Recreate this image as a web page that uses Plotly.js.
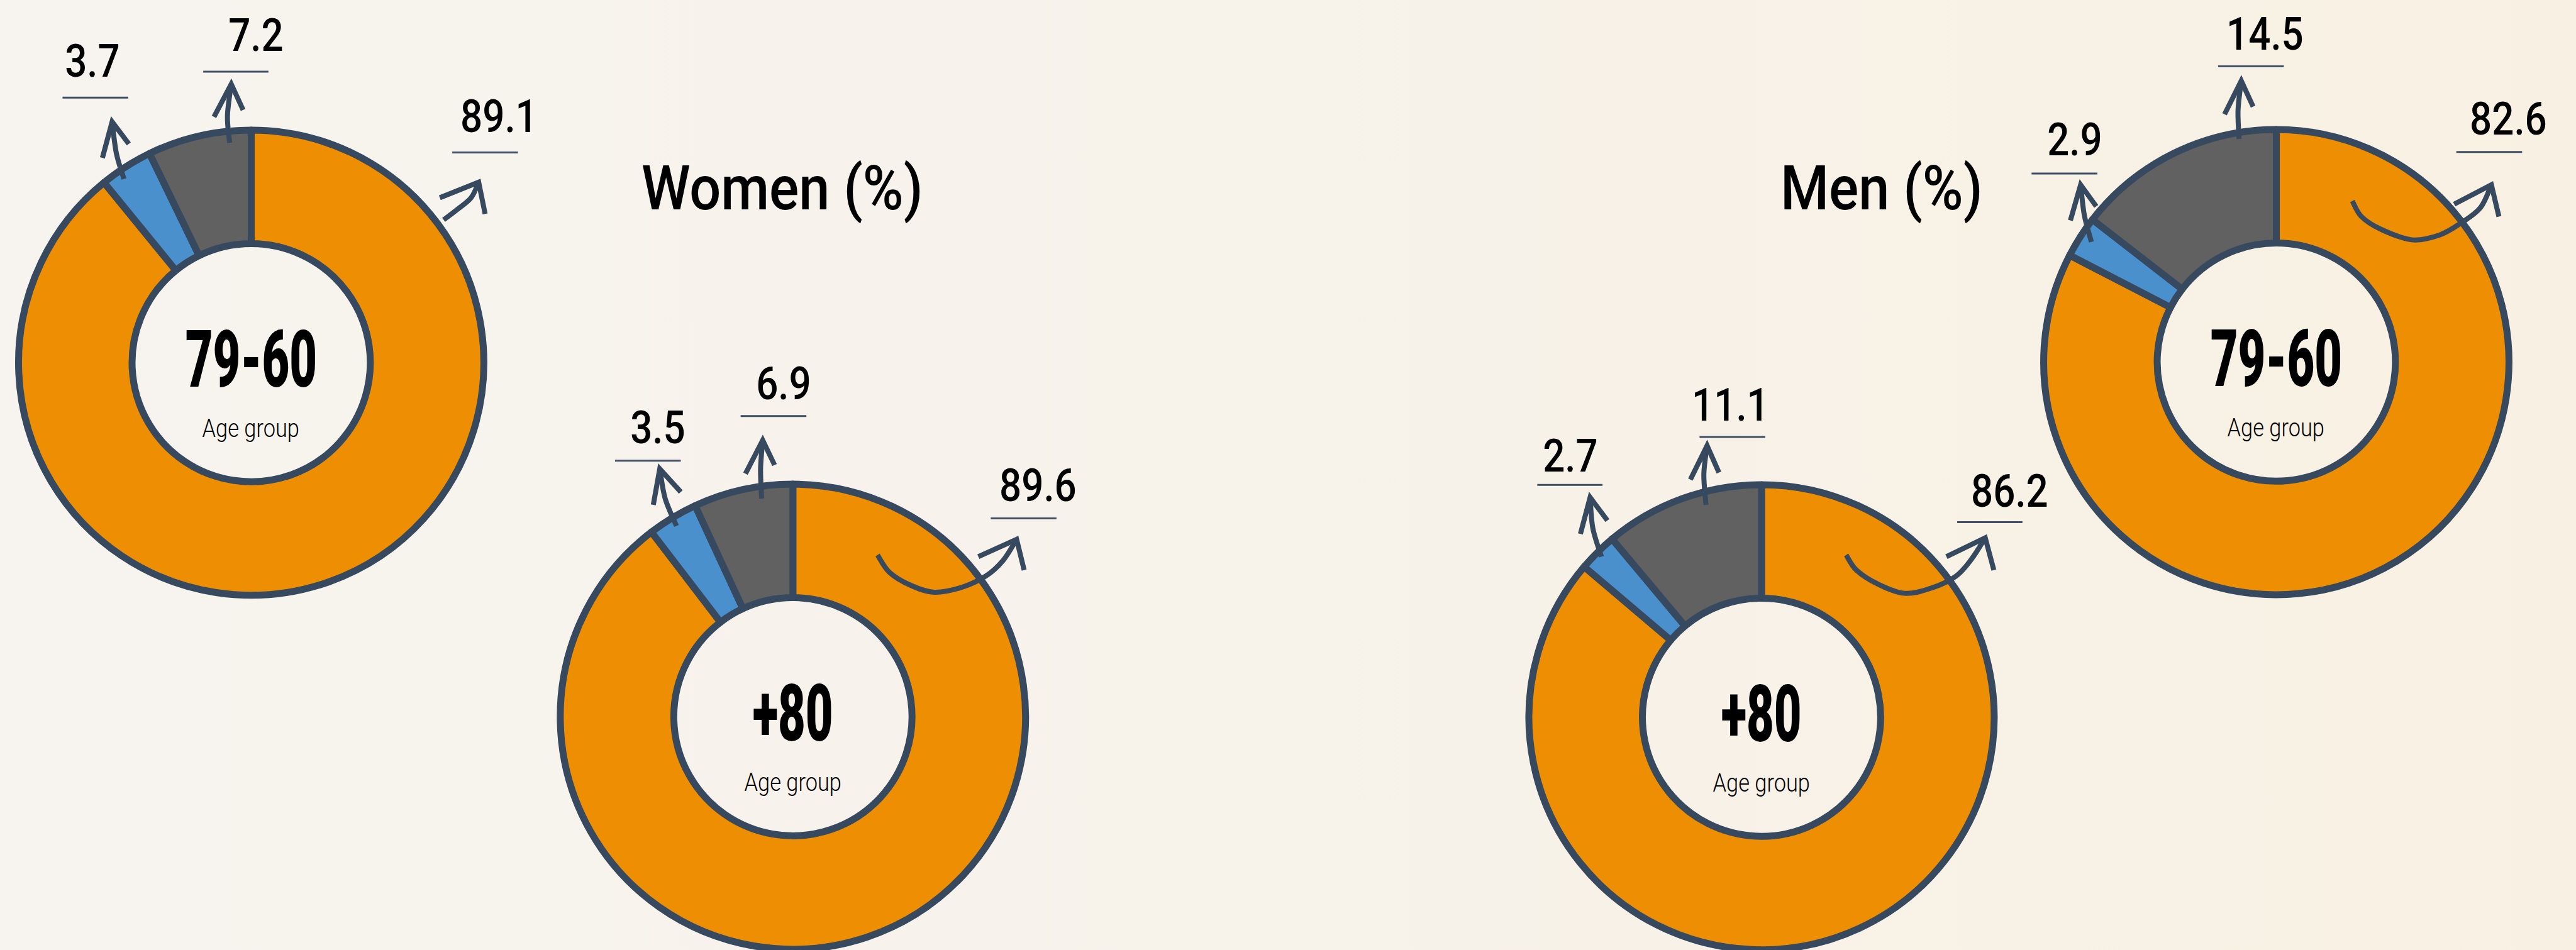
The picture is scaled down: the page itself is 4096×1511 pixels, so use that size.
<!DOCTYPE html>
<html>
<head>
<meta charset="utf-8">
<script src="https://cdn.plot.ly/plotly-3.0.1.min.js"></script>
<style>
  html, body { margin: 0; padding: 0; }
  body { width: 4096px; height: 1511px; overflow: hidden;
         background: linear-gradient(90deg, #F7F4EF 0%, #F7F2EA 50%, #F8F1E3 100%); }
  #chart { width: 4096px; height: 1511px; }
</style>
</head>
<body>
<div id="chart"></div>
<script>
// ---------------- DATA ----------------
const categories = ['Segment A', 'Segment B', 'Segment C'];
const women60to79 = [89.1, 3.7, 7.2];
const women80plus = [89.6, 3.5, 6.9];
const men60to79   = [82.6, 2.9, 14.5];
const men80plus   = [86.2, 2.7, 11.1];
const centerLabels = ['79-60', '+80', '79-60', '+80'];
const subLabel = 'Age group';
const panelTitles = ['Women (%)', 'Men (%)'];

// ---------------- LAYOUT HELPERS ----------------
const W = 4096, H = 1511;          // window
const RW = 4779, RH = 1763;        // reference size
const S = W / RW;
const px = X => X / RW;
const py = Y => 1 - Y / RH;

const sliceColors = ['#EE8E03', '#4A90CD', '#616161'];
const ink = '#37495E';
const lineW = 11;
const outerR = 438;   // reference px, outer visible edge
const FONT = "Roboto, 'Open Sans', 'DejaVu Sans', sans-serif";

// ring placement (reference pixel coordinates) and decoration
const rings = [
  { values: women60to79, cx: 466,  cy: 673,
    lab: [[926,222],[171,120],[475,72]],
    und: [[839,961,283],[116,238,181],[377,498,133]],
    arrows: [
      { pts: [[823,408],[848,389],[874,367],[888,338]], wings: [[816,367],[900,397]] },
      { pts: [[230,332],[216,285],[208,226]], wings: [[190,293],[239,267]] },
      { pts: [[426,265],[422,215],[429,156]], wings: [[397,217],[451,204]] } ] },
  { values: women80plus, cx: 1471, cy: 1330,
    lab: [[1926,907],[1221,800],[1454,718]],
    und: [[1838,1960,962],[1141,1263,855],[1374,1496,772]],
    arrows: [
      { pts: [[1628,1030],[1650,1062],[1689,1086],[1733,1099],[1784,1090],[1829,1069],[1861,1040],[1886,1001]], wings: [[1815,1033],[1900,1058]] },
      { pts: [[1255,976],[1234,925],[1224,870]], wings: [[1212,937],[1263,913]] },
      { pts: [[1413,925],[1411,870],[1415,817]], wings: [[1383,879],[1437,863]] } ] },
  { values: men60to79, cx: 4223, cy: 672,
    lab: [[4653,227],[3849,266],[4202,70]],
    und: [[4557,4679,282],[3769,3891,322],[4115,4237,123]],
    arrows: [
      { pts: [[4364,373],[4381,402],[4416,425],[4474,445],[4526,436],[4567,413],[4602,385],[4622,343]], wings: [[4553,379],[4636,402]] },
      { pts: [[3880,449],[3867,400],[3860,343]], wings: [[3841,409],[3889,383]] },
      { pts: [[4154,258],[4152,205],[4158,150]], wings: [[4127,212],[4180,198]] } ] },
  { values: men80plus, cx: 3268, cy: 1331,
    lab: [[3728,918],[2913,852],[3210,758]],
    und: [[3631,3752,969],[2852,2973,900],[3153,3275,811]],
    arrows: [
      { pts: [[3425,1030],[3444,1058],[3482,1083],[3533,1101],[3584,1091],[3629,1069],[3658,1037],[3683,998]], wings: [[3611,1033],[3699,1058]] },
      { pts: [[2971,1033],[2955,980],[2950,923]], wings: [[2932,991],[2982,966]] },
      { pts: [[3165,937],[3161,880],[3167,827]], wings: [[3136,890],[3189,877]] } ] }
];
const titlePos = [[1451, 346], [3490, 346]];

// smooth path through points (Catmull-Rom -> cubic Bezier), paper coords
function smoothPath(points) {
  const p = points.map(([x, y]) => [px(x), py(y)]);
  let d = `M${p[0][0]},${p[0][1]}`;
  for (let i = 0; i < p.length - 1; i++) {
    const p0 = p[Math.max(0, i - 1)], p1 = p[i], p2 = p[i + 1], p3 = p[Math.min(p.length - 1, i + 2)];
    const c1 = [p1[0] + (p2[0] - p0[0]) / 6, p1[1] + (p2[1] - p0[1]) / 6];
    const c2 = [p2[0] - (p3[0] - p1[0]) / 6, p2[1] - (p3[1] - p1[1]) / 6];
    d += ` C${c1[0]},${c1[1]} ${c2[0]},${c2[1]} ${p2[0]},${p2[1]}`;
  }
  return d;
}

const data = [];
const annotations = [];
const squeeze = [];   // horizontal condensing per annotation index
const shapes = [];

function addText(opts, sq) {
  annotations.push(Object.assign({
    xref: 'paper', yref: 'paper', xanchor: 'center', yanchor: 'middle', showarrow: false
  }, opts));
  squeeze.push(sq);
}

rings.forEach((ring, k) => {
  const r = outerR * S - lineW / 2;     // plotly radius in px
  const cxp = ring.cx * S, cyp = ring.cy * S;
  data.push({
    type: 'pie',
    labels: categories,
    values: ring.values,
    sort: false,
    direction: 'clockwise',
    rotation: 0,
    hole: 0.512,
    textinfo: 'none',
    hoverinfo: 'label+value',
    showlegend: false,
    marker: { colors: sliceColors, line: { color: ink, width: lineW } },
    domain: {
      x: [Math.max(0, (cxp - r) / W), Math.min(1, (cxp + r) / W)],
      y: [Math.max(0, 1 - (cyp + r) / H), Math.min(1, 1 - (cyp - r) / H)]
    }
  });
  // centre texts
  addText({ x: px(ring.cx), y: py(ring.cy - 6), text: centerLabels[k],
            font: { family: FONT, size: 126, color: '#000000', weight: 900 } }, 0.6);
  addText({ x: px(ring.cx), y: py(ring.cy + 122), text: subLabel,
            font: { family: FONT, size: 40, color: '#000000', weight: 300 } }, 0.86);
  // value labels, underlines, arrows
  ring.values.forEach((v, i) => {
    const [lx, ly] = ring.lab[i];
    addText({ x: px(lx), y: py(ly - 6), text: v.toFixed(1),
              font: { family: FONT, size: 72, color: '#000000', weight: 500 } }, 0.86);
    const [ux0, ux1, uy] = ring.und[i];
    shapes.push({ type: 'line', xref: 'paper', yref: 'paper',
      x0: px(ux0), x1: px(ux1), y0: py(uy), y1: py(uy),
      line: { color: '#3E4F66', width: 3 } });
    const a = ring.arrows[i];
    shapes.push({ type: 'path', xref: 'paper', yref: 'paper',
      path: smoothPath(a.pts),
      line: { color: ink, width: 8 } });
    const tip = a.pts[a.pts.length - 1];
    shapes.push({ type: 'path', xref: 'paper', yref: 'paper',
      path: `M${px(a.wings[0][0])},${py(a.wings[0][1])} L${px(tip[0])},${py(tip[1])} L${px(a.wings[1][0])},${py(a.wings[1][1])}`,
      line: { color: ink, width: 8 } });
  });
});

panelTitles.forEach((t, k) => {
  addText({ x: px(titlePos[k][0]), y: py(titlePos[k][1] + 4), text: t,
            font: { family: FONT, size: 98, color: '#000000', weight: 500 } }, 0.9);
});

const layout = {
  width: W, height: H,
  margin: { l: 0, r: 0, t: 0, b: 0 },
  paper_bgcolor: 'rgba(0,0,0,0)',
  plot_bgcolor: 'rgba(0,0,0,0)',
  showlegend: false,
  annotations: annotations,
  shapes: shapes
};

Plotly.newPlot('chart', data, layout, { displayModeBar: false, staticPlot: true }).then(gd => {
  // condense the lettering horizontally around its own centre
  gd.querySelectorAll('g.annotation').forEach(g => {
    const idx = +g.getAttribute('data-index');
    const s = squeeze[idx];
    const t = g.querySelector('text.annotation-text');
    if (!t || !s || s === 1) return;
    const bb = t.getBBox();
    const c = bb.x + bb.width / 2;
    t.setAttribute('transform', `translate(${c},0) scale(${s},1) translate(${-c},0)`);
  });
});
</script>
</body>
</html>
